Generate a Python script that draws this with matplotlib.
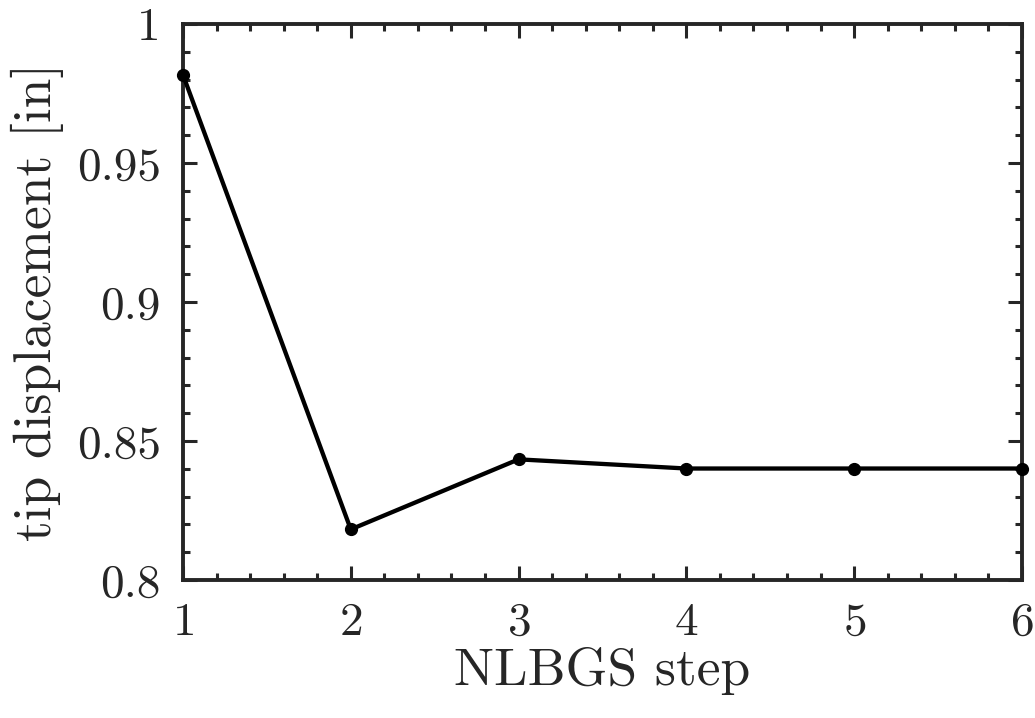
import matplotlib
matplotlib.use('Agg')
import matplotlib.pyplot as plt
from matplotlib.ticker import MultipleLocator

plt.rcParams['font.family'] = 'serif'
plt.rcParams['font.serif'] = ['cmr10']
plt.rcParams['mathtext.fontset'] = 'cm'
plt.rcParams['axes.formatter.use_mathtext'] = True

steps = [1, 2, 3, 4, 5, 6]
tip_disp = [0.9817, 0.8182, 0.8434, 0.8401, 0.8401, 0.8401]

fig = plt.figure(figsize=(10.35, 7.18), dpi=100)
ax = fig.add_axes([0.1768, 0.1922, 0.8106, 0.7744])

ax.plot(steps, tip_disp, '-', color='black', linewidth=3.1,
        marker='o', markersize=8.5, clip_on=False, zorder=5)

ax.set_xlim(1, 6)
ax.set_ylim(0.8, 1.0)
ax.set_xticks(steps)
ax.set_yticks([0.8, 0.85, 0.9, 0.95, 1.0])
ax.set_yticklabels(['0.8', '0.85', '0.9', '0.95', '1'])
ax.xaxis.set_minor_locator(MultipleLocator(0.2))
ax.yaxis.set_minor_locator(MultipleLocator(0.01))

ax.tick_params(which='both', direction='in', top=True, right=True,
               colors='#262626', labelsize=34, width=2.2)
ax.tick_params(axis='y', pad=16)
ax.tick_params(axis='x', pad=16)
ax.tick_params(which='major', length=10)
ax.tick_params(which='minor', length=5)
for s in ax.spines.values():
    s.set_linewidth(2.8)
    s.set_color('#262626')

ax.set_xlabel('NLBGS step', fontsize=38.5, color='#262626', labelpad=2)
ax.set_ylabel('tip displacement [in]', fontsize=38.5, color='#262626', labelpad=9)

plt.savefig('out.png', dpi=100)
plt.close()
